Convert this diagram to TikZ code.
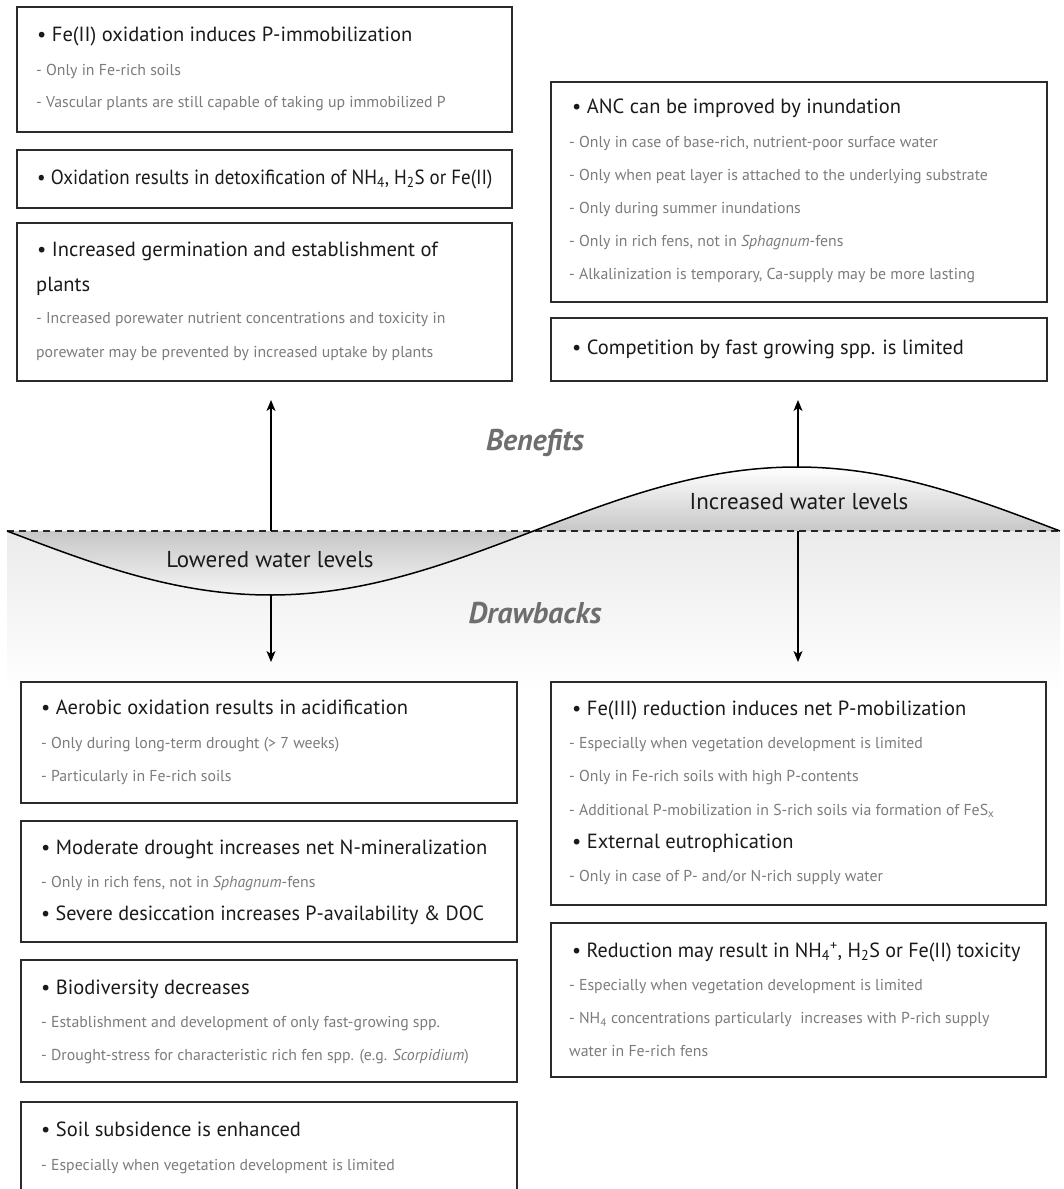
\documentclass[tikz,border=0pt]{standalone}
\usepackage{fontspec}
\usepackage{graphicx}
\setmainfont{PT Sans}
\usetikzlibrary{arrows.meta}
\definecolor{headc}{HTML}{1A1A1A}
\definecolor{subc}{HTML}{7C7C7C}
\definecolor{titc}{HTML}{6E6E6E}
\definecolor{boxc}{HTML}{2B2B2B}
\newcommand{\narrowed}[2]{\scalebox{#1}[1]{#2}}
\tikzset{
  infobox/.style={draw=boxc, line width=1.4pt, fill=white, rectangle, inner sep=0pt},
  head/.style={anchor=base west, inner sep=0pt, text=headc, font=\fontsize{20.5}{24}\selectfont, yshift=-6.8pt},
  sub/.style={anchor=base west, inner sep=0pt, text=subc, font=\fontsize{15.8}{19}\selectfont, yshift=-5.2pt},
  wavelabel/.style={inner sep=0pt, text=headc, font=\fontsize{23}{27}\selectfont},
  sectitle/.style={inner sep=0pt, text=titc, font=\fontsize{30}{34}\selectfont\bfseries\itshape},
  arr/.style={draw=black, line width=1.4pt, -{Stealth[length=11pt,width=9pt,inset=3pt]}},
}
\begin{document}
\begin{tikzpicture}[x=1pt,y=-1pt]
\useasboundingbox (0,0) rectangle (1064,1189);
\clip (0,0) rectangle (1064,1189);
\fill[white] (0,0) rectangle (1064,1189);

% background below water line
\shade[top color=black!8, bottom color=white] (7,531) rectangle (1060,690);

% wave fills
\shade[top color=black!22, bottom color=black!4]
  plot[domain=7:533.5, samples=60, smooth] (\x, {531+64*sin(0.34188*(\x-7))}) -- cycle;
\shade[top color=white, bottom color=black!22]
  plot[domain=533.5:1060, samples=60, smooth] (\x, {531+64*sin(0.34188*(\x-7))}) -- cycle;

% dashed water line
\coordinate (wl0) at (7,531);
\coordinate (wl1) at (1060,531);
\draw[line width=1.3pt, black!85, dash pattern=on 7pt off 5pt] (wl0) -- (wl1);
% wave line
\draw[line width=1.5pt, black] plot[domain=7:1060, samples=120, smooth] (\x, {531+64*sin(0.34188*(\x-7))});

\node[wavelabel] (low) at (270,560) {Lowered water levels};
\node[wavelabel] (inc) at (799,502) {Increased water levels};
\node[sectitle] (ben) at (535,443) {Benefits};
\node[sectitle] (dra) at (535,613) {Drawbacks};

% ---------- top left boxes ----------
\node[infobox, minimum width=495pt, minimum height=125pt] (B1) at (264.5,69.5) {};
\node[head] (B1h) at (37,35) {• Fe(II) oxidation induces P-immobilization};
\node[sub] (B1a) at (36,70) {- Only in Fe-rich soils};
\node[sub] (B1b) at (36,102) {- Vascular plants are still capable of taking up immobilized P};

\node[infobox, minimum width=495pt, minimum height=58pt] (B2) at (264.5,179) {};
\node[head] (B2h) at (37,178) {\narrowed{0.925}{• Oxidation results in detoxification of NH\textsubscript{4}, H\textsubscript{2}S or Fe(II)}};

\node[infobox, minimum width=495pt, minimum height=158pt] (B3) at (264.5,302) {};
\node[head] (B3h) at (37,250) {• Increased germination and establishment of};
\node[head] (B3i) at (36,285) {plants};
\node[sub] (B3a) at (36,318) {- Increased porewater nutrient concentrations and toxicity in};
\node[sub] (B3b) at (36,352) {porewater may be prevented by increased uptake by plants};

% ---------- top right boxes ----------
\node[infobox, minimum width=496pt, minimum height=220pt] (R1) at (799,192) {};
\node[head] (R1h) at (572,107) {• ANC can be improved by inundation};
\node[sub] (R1a) at (569,142) {- Only in case of base-rich, nutrient-poor surface water};
\node[sub] (R1b) at (569,175) {- Only when peat layer is attached to the underlying substrate};
\node[sub] (R1c) at (569,208) {- Only during summer inundations};
\node[sub] (R1d) at (569,241) {- Only in rich fens, not in \textit{Sphagnum}-fens};
\node[sub] (R1e) at (569,274) {- Alkalinization is temporary, Ca-supply may be more lasting};

\node[infobox, minimum width=496pt, minimum height=63pt] (R2) at (799,349.5) {};
\node[head] (R2h) at (572,348) {• Competition by fast growing spp. is limited};

% ---------- bottom left boxes ----------
\node[infobox, minimum width=496pt, minimum height=121pt] (L1) at (269,742.5) {};
\node[head] (L1h) at (41,708) {• Aerobic oxidation results in acidification};
\node[sub] (L1a) at (41,743) {- Only during long-term drought (> 7 weeks)};
\node[sub] (L1b) at (41,776) {- Particularly in Fe-rich soils};

\node[infobox, minimum width=496pt, minimum height=121pt] (L2) at (269,881.5) {};
\node[head] (L2h) at (41,848) {• Moderate drought increases net N-mineralization};
\node[sub] (L2a) at (41,882) {- Only in rich fens, not in \textit{Sphagnum}-fens};
\node[head] (L2i) at (41,914) {\narrowed{0.982}{• Severe desiccation increases P-availability \& DOC}};

\node[infobox, minimum width=496pt, minimum height=122pt] (L3) at (269,1021) {};
\node[head] (L3h) at (41,988) {• Biodiversity decreases};
\node[sub] (L3a) at (41,1022) {- Establishment and development of only fast-growing spp.};
\node[sub] (L3b) at (41,1055) {- Drought-stress for characteristic rich fen spp. (e.g. \textit{Scorpidium})};

\node[infobox, minimum width=496pt, minimum height=100pt] (L4) at (269,1152) {};
\node[head] (L4h) at (41,1130) {• Soil subsidence is enhanced};
\node[sub] (L4a) at (41,1165) {- Especially when vegetation development is limited};

% ---------- bottom right boxes ----------
\node[infobox, minimum width=495pt, minimum height=223pt] (D1) at (798.5,793.5) {};
\node[head] (D1h) at (572,709) {• Fe(III) reduction induces net P-mobilization};
\node[sub] (D1a) at (569,743) {- Especially when vegetation development is limited};
\node[sub] (D1b) at (569,776) {- Only in Fe-rich soils with high P-contents};
\node[sub] (D1c) at (569,810) {- Additional P-mobilization in S-rich soils via formation of FeS\textsubscript{x}};
\node[head] (D1i) at (572,842) {• External eutrophication};
\node[sub] (D1d) at (569,876) {- Only in case of P- and/or N-rich supply water};

\node[infobox, minimum width=495pt, minimum height=154pt] (D2) at (798.5,1000) {};
\node[head] (D2h) at (572,951) {\narrowed{0.98}{• Reduction may result in NH\textsubscript{4}\textsuperscript{+}, H\textsubscript{2}S or Fe(II) toxicity}};
\node[sub] (D2a) at (569,985) {- Especially when vegetation development is limited};
\node[sub] (D2b) at (569,1018) {- NH\textsubscript{4} concentrations particularly\ \ increases with P-rich supply};
\node[sub] (D2c) at (569,1051) {water in Fe-rich fens};

% ---------- arrows ----------
\coordinate (lu0) at (271,531);
\coordinate (lu1) at (271,400);
\coordinate (ld0) at (271,595);
\coordinate (ld1) at (271,662);
\coordinate (ru0) at (798,467);
\coordinate (ru1) at (798,400);
\coordinate (rd0) at (798,531);
\coordinate (rd1) at (798,662);
\draw[arr] (lu0) -- (lu1);
\draw[arr] (ld0) -- (ld1);
\draw[arr] (ru0) -- (ru1);
\draw[arr] (rd0) -- (rd1);
\end{tikzpicture}
\end{document}
